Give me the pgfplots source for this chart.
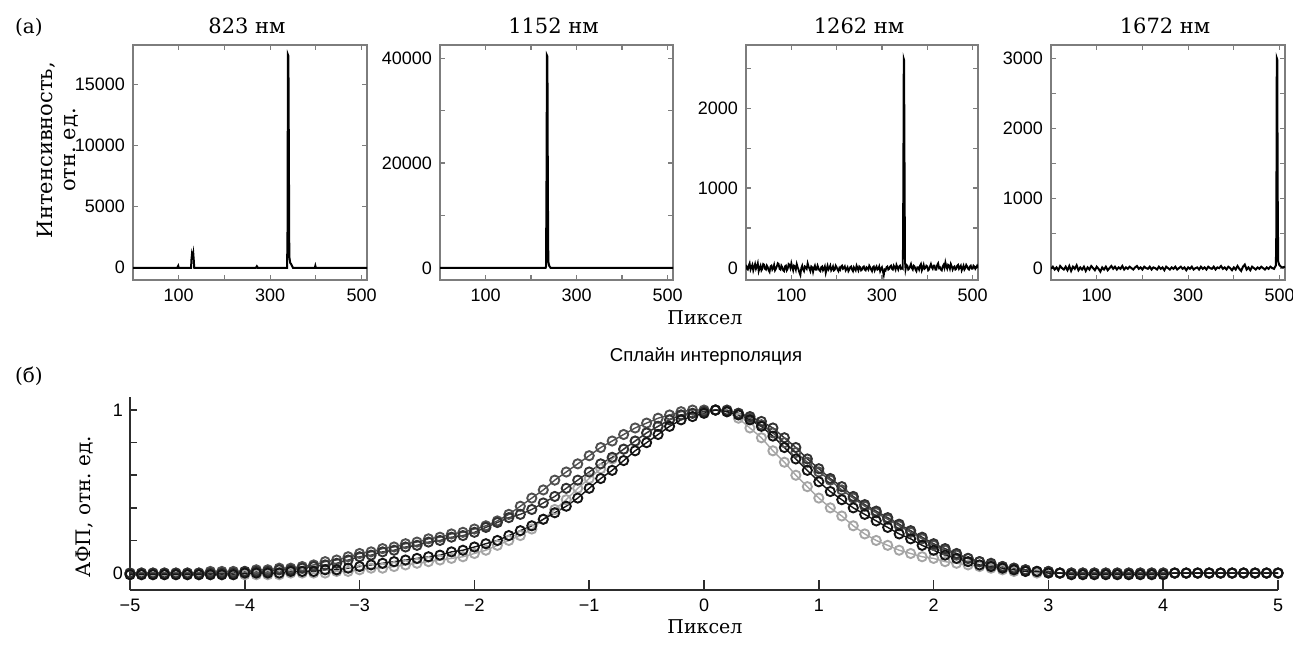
\documentclass[border=0pt]{standalone}
\usepackage{fontspec}
\setmainfont{DejaVu Serif}
\setsansfont{Liberation Sans}
\usepackage{pgfplots}
\usepackage{pgfplotstable}
\pgfplotsset{compat=1.18}
\frenchspacing

\definecolor{boxgray}{RGB}{125,125,125}
\definecolor{axdark}{RGB}{45,45,45}
\definecolor{cA}{RGB}{80,80,80}
\definecolor{cB}{RGB}{50,50,50}
\definecolor{cC}{RGB}{20,20,20}
\definecolor{cD}{RGB}{165,165,165}

\pgfplotstableread{
x A B C D
-5.0 0.00 0.00 -0.01 -0.01
-4.9 0.00 0.00 -0.01 -0.01
-4.8 0.00 0.00 -0.01 -0.01
-4.7 0.00 0.00 -0.01 -0.01
-4.6 0.00 0.00 -0.01 -0.01
-4.5 0.00 0.00 -0.01 -0.01
-4.4 0.00 0.00 -0.01 -0.01
-4.3 0.01 0.00 -0.01 -0.01
-4.2 0.01 0.00 -0.01 -0.01
-4.1 0.01 0.00 -0.01 -0.01
-4.0 0.01 0.01 0.00 -0.01
-3.9 0.02 0.01 0.00 -0.01
-3.8 0.02 0.01 0.00 -0.01
-3.7 0.03 0.02 0.00 -0.01
-3.6 0.03 0.02 0.01 0.00
-3.5 0.04 0.03 0.01 0.00
-3.4 0.05 0.04 0.01 0.00
-3.3 0.07 0.05 0.02 0.00
-3.2 0.08 0.06 0.02 0.01
-3.1 0.10 0.08 0.03 0.01
-3.0 0.12 0.10 0.04 0.02
-2.9 0.13 0.11 0.05 0.03
-2.8 0.15 0.13 0.06 0.03
-2.7 0.16 0.14 0.07 0.04
-2.6 0.18 0.16 0.08 0.05
-2.5 0.19 0.17 0.09 0.06
-2.4 0.21 0.19 0.10 0.07
-2.3 0.22 0.20 0.11 0.08
-2.2 0.24 0.22 0.13 0.09
-2.1 0.25 0.23 0.14 0.10
-2.0 0.27 0.25 0.16 0.12
-1.9 0.29 0.28 0.18 0.14
-1.8 0.32 0.31 0.20 0.17
-1.7 0.36 0.34 0.23 0.20
-1.6 0.41 0.36 0.26 0.23
-1.5 0.46 0.39 0.29 0.27
-1.4 0.51 0.43 0.33 0.33
-1.3 0.57 0.47 0.37 0.39
-1.2 0.62 0.52 0.41 0.45
-1.1 0.67 0.57 0.46 0.52
-1.0 0.72 0.62 0.52 0.58
-0.9 0.77 0.67 0.58 0.64
-0.8 0.81 0.71 0.63 0.70
-0.7 0.85 0.76 0.69 0.76
-0.6 0.89 0.81 0.75 0.81
-0.5 0.92 0.86 0.80 0.86
-0.4 0.95 0.90 0.85 0.90
-0.3 0.97 0.94 0.90 0.94
-0.2 0.99 0.97 0.94 0.97
-0.1 1.00 0.98 0.96 0.98
0.0 1.00 0.99 0.98 0.99
0.1 1.00 1.00 1.00 1.00
0.2 0.99 1.00 0.99 0.99
0.3 0.98 0.98 0.97 0.95
0.4 0.95 0.96 0.94 0.89
0.5 0.91 0.93 0.90 0.83
0.6 0.86 0.89 0.84 0.75
0.7 0.80 0.83 0.77 0.68
0.8 0.74 0.77 0.70 0.60
0.9 0.68 0.70 0.63 0.53
1.0 0.62 0.64 0.56 0.46
1.1 0.57 0.58 0.50 0.40
1.2 0.51 0.53 0.45 0.35
1.3 0.46 0.47 0.40 0.29
1.4 0.41 0.42 0.36 0.24
1.5 0.37 0.38 0.32 0.20
1.6 0.33 0.34 0.28 0.17
1.7 0.29 0.30 0.24 0.14
1.8 0.25 0.26 0.21 0.12
1.9 0.21 0.22 0.17 0.10
2.0 0.17 0.18 0.14 0.09
2.1 0.14 0.15 0.11 0.07
2.2 0.11 0.12 0.09 0.06
2.3 0.09 0.09 0.07 0.05
2.4 0.07 0.07 0.05 0.04
2.5 0.05 0.06 0.04 0.03
2.6 0.04 0.04 0.03 0.02
2.7 0.03 0.03 0.02 0.01
2.8 0.02 0.02 0.01 0.01
2.9 0.01 0.01 0.01 0.00
3.0 0.01 0.01 0.00 0.00
3.1 0.00 0.00 0.00 0.00
3.2 0.00 0.00 -0.01 0.00
3.3 0.00 0.00 -0.01 0.00
3.4 0.00 0.00 -0.01 0.00
3.5 0.00 0.00 -0.01 0.00
3.6 0.00 0.00 -0.01 0.00
3.7 0.00 0.00 -0.01 0.00
3.8 0.00 0.00 -0.01 0.00
3.9 0.00 0.00 -0.01 0.00
4.0 0.00 0.00 -0.01 0.00
4.1 0.00 0.00 0.00 0.00
4.2 0.00 0.00 0.00 0.00
4.3 0.00 0.00 0.00 0.00
4.4 0.00 0.00 0.00 0.00
4.5 0.00 0.00 0.00 0.00
4.6 0.00 0.00 0.00 0.00
4.7 0.00 0.00 0.00 0.00
4.8 0.00 0.00 0.00 0.00
4.9 0.00 0.00 0.00 0.00
5.0 0.00 0.00 0.00 0.00
}\psftable

\pgfplotsset{
  spec/.style={
    scale only axis, width=117pt, height=117.5pt,
    anchor=north west,
    xmin=0, xmax=512,
    axis line style={boxgray, line width=0.8pt},
    every tick/.style={boxgray, line width=0.6pt},
    major tick length=2.5pt,
    tick align=inside,
    xtick pos=both, ytick pos=both,
    xtick={100,200,300,400,500}, xticklabels={100,,300,,500},
    scaled y ticks=false,
    tick label style={font=\sffamily\fontsize{9}{10}\selectfont},
    xticklabel style={yshift=-1pt},
    yticklabel style={xshift=-0.5pt},
    every axis title/.style={at={(0.5,1)}, anchor=south, yshift=2pt, xshift=-1.5pt,
       font=\fontsize{10.5}{12}\selectfont},
  },
  spl/.style={line width=0.7pt, mark=o, mark size=2.3pt, mark options={line width=0.95pt}},
}

\begin{document}
\begin{tikzpicture}
\path[use as bounding box] (0,0) rectangle (646.5pt,-324pt);

% ---------- (a) panel 1
\begin{axis}[spec, at={(66.5pt,-22.5pt)}, width=117pt,
  title={823 нм},
  ymin=-1000, ymax=18200,
  ytick={0,5000,10000,15000}, yticklabels={0,5000,10000,15000}]
\addplot[black, line width=1pt, mark=none] coordinates {(0,0) (97,0) (99,150) (100,0) (127,0) (128,700) (129,1100)
 (130,950) (131,850) (132,1100) (133,600) (134,0) (269,0) (271,120) (273,0)
 (337,0) (338,2300) (339,17400) (340,17300) (341,9600) (342,900) (344,400)
 (346,300) (348,150) (350,0) (398,0) (399,150) (400,0) (512,0)};
\end{axis}

% ---------- panel 2
\begin{axis}[spec, at={(220pt,-22.5pt)}, width=116.5pt,
  title={1152 нм},
  ymin=-2300, ymax=42500,
  ytick={0,10000,20000,30000,40000}, yticklabels={0,,20000,,40000}]
\addplot[black, line width=1pt, mark=none] coordinates {(0,0) (232,0) (233,300) (234,16500) (235,40500) (236,40300)
 (237,15000) (238,1200) (240,400) (243,0) (512,0)};
\end{axis}

% ---------- panel 3
\begin{axis}[spec, at={(373pt,-22.5pt)}, width=116pt,
  title={1262 нм},
  ymin=-150, ymax=2790,
  ytick={0,500,1000,1500,2000,2500}, yticklabels={0,,1000,,2000,}]
\addplot[black, line width=0.9pt, mark=none] table {
x y
0 40
2 -10
4 -20
6 30
8 60
10 -20
12 10
14 40
16 -30
18 10
20 50
22 -10
24 20
26 60
28 -40
30 0
32 30
34 -30
36 -10
38 50
40 40
42 -10
44 -20
46 30
48 10
50 -30
52 -50
54 20
56 30
58 -20
60 0
62 40
64 -30
66 -10
68 20
70 60
72 50
74 -10
76 -20
78 30
80 10
82 -30
84 -40
86 20
88 30
90 -30
92 -10
94 50
96 40
98 0
100 60
102 10
104 -30
106 30
108 20
110 -20
112 50
114 10
116 -20
118 -60
120 -90
122 0
124 30
126 -20
128 -40
130 20
132 10
134 -10
136 60
138 20
140 -10
142 -40
144 20
146 10
148 -50
150 0
152 30
154 -20
156 -20
158 30
160 0
162 -30
164 -40
166 10
168 20
170 -30
172 -10
174 20
176 -60
178 -10
180 30
182 -20
184 0
186 30
188 -30
190 -10
192 20
194 -30
196 -20
198 30
200 10
202 -20
204 -40
206 0
208 -20
210 20
212 30
214 -10
216 0
218 20
220 -30
222 -10
224 10
226 -40
228 -20
230 10
232 20
234 -20
236 -40
238 10
240 -10
242 -30
244 30
246 0
248 -30
250 20
252 10
254 -30
256 -20
258 10
260 20
262 -20
264 -30
266 10
268 0
270 -20
272 30
274 10
276 -20
278 -40
280 10
282 20
284 -30
286 0
288 20
290 -20
292 -10
294 20
296 -40
298 -10
300 10
302 -40
304 -90
306 -20
308 -30
310 10
312 20
314 -20
316 -10
318 20
320 30
322 -10
324 -20
326 30
328 10
330 -20
332 40
334 10
336 -20
338 20
340 30
342 -10
344 0
346 -10
347 1050
348 2620
349 2600
350 1290
351 60
352 -20
354 40
356 30
358 -20
360 -10
362 20
364 50
366 0
368 -20
370 30
372 20
374 -20
376 -40
378 10
380 10
382 -20
384 30
386 50
388 -30
390 0
392 40
394 -10
396 0
398 30
400 20
402 -30
404 -20
406 20
408 50
410 10
412 -10
414 30
416 30
418 -20
420 -20
422 40
424 60
426 0
428 10
430 -20
432 -30
434 20
436 40
438 0
440 70
442 20
444 -10
446 40
448 30
450 -10
452 50
454 20
456 -20
458 10
460 20
462 -20
464 -10
466 30
468 40
470 -10
472 10
474 30
476 -30
478 0
480 30
482 -20
484 0
486 40
488 20
490 -10
492 -20
494 20
496 30
498 -10
500 -10
502 30
504 20
506 -10
508 10
510 30
512 0
};
\end{axis}

% ---------- panel 4
\begin{axis}[spec, at={(525.5pt,-22.5pt)}, width=117pt,
  title={1672 нм},
  ymin=-170, ymax=3190,
  ytick={0,500,1000,1500,2000,2500,3000}, yticklabels={0,,1000,,2000,,3000}]
\addplot[black, line width=1pt, mark=none] table {
x y
0 -10
4 20
8 -20
12 10
16 -30
20 30
24 0
28 -20
32 20
36 -30
40 30
44 -40
48 20
52 -10
56 40
60 -30
64 10
68 -20
72 20
76 -40
80 10
84 -20
88 30
92 0
96 -30
100 20
104 -10
108 -50
112 10
116 -20
120 20
124 -30
128 0
132 30
136 -10
140 20
144 -20
148 10
152 -10
156 30
160 -20
164 10
168 -10
172 20
176 0
180 -20
184 10
188 30
192 -10
196 10
200 -20
204 20
208 0
212 -10
216 20
220 -20
224 10
228 0
232 -20
236 20
240 -10
244 10
248 -30
252 20
256 0
260 -20
264 10
268 -10
272 20
276 -20
280 0
284 20
288 -10
292 10
296 -30
300 10
304 -10
308 20
312 -20
316 0
320 10
324 -20
328 20
332 -10
336 10
340 -20
344 20
348 0
352 -10
356 20
360 -20
364 10
368 0
372 30
376 -10
380 10
384 -20
388 20
392 0
396 -30
400 10
404 -20
408 30
412 -10
416 -40
420 20
424 50
428 -20
432 10
436 -30
440 20
444 0
448 -20
452 10
456 -10
460 20
464 0
468 -20
472 10
476 -10
480 20
484 0
488 -10
492 40
493 520
494 3000
495 2980
496 1030
497 100
499 50
503 20
507 10
512 20
};
\end{axis}

% ---------- (б) bottom panel
\begin{axis}[at={(65pt,-198.5pt)}, anchor=north west,
  scale only axis, width=574pt, height=96.5pt,
  xmin=-5, xmax=5, ymin=-0.104, ymax=1.08,
  axis x line*=bottom, axis y line*=left,
  axis line style={axdark, line width=0.9pt},
  every tick/.style={axdark, line width=0.8pt},
  tick align=inside,
  xtick style={/pgfplots/major tick length=5pt},
  ytick style={/pgfplots/major tick length=3.5pt},
  xtick={-5,-4,-3,-2,-1,0,1,2,3,4,5},
  xticklabels={−5,−4,−3,−2,−1,0,1,2,3,4,5},
  ytick={0,0.2,0.4,0.6,0.8,1}, yticklabels={0,,,,,1},
  tick label style={font=\sffamily\fontsize{9}{10}\selectfont},
  xticklabel style={yshift=-1pt},
  clip=false]
\addplot[cD, spl] table[x=x,y=D] {\psftable};
\addplot[cA, spl] table[x=x,y=A] {\psftable};
\addplot[cB, spl] table[x=x,y=B] {\psftable};
\addplot[cC, spl] table[x=x,y=C] {\psftable};
\end{axis}

% ---------- texts
\node[anchor=west, font=\fontsize{10}{12}\selectfont] at (4pt,-13.5pt) {(a)};
\node[anchor=west, font=\fontsize{10}{12}\selectfont] at (4pt,-188pt) {(б)};
\node[font=\fontsize{9.5}{12}\selectfont] at (352.5pt,-159pt) {Пиксел};
\node[font=\fontsize{9.5}{12}\selectfont] at (352.5pt,-313.5pt) {Пиксел};
\node[rotate=90, align=center, font=\fontsize{10.5}{11.5}\selectfont] at (29pt,-75pt) {Интенсивность,\\отн. ед.};
\node[rotate=90, font=\fontsize{10}{12}\selectfont] at (42.5pt,-253.5pt) {АФП, отн. ед.};
\node[font=\sffamily\fontsize{9.3}{11}\selectfont] at (353pt,-178.5pt) {Сплайн интерполяция};
\end{tikzpicture}
\end{document}
